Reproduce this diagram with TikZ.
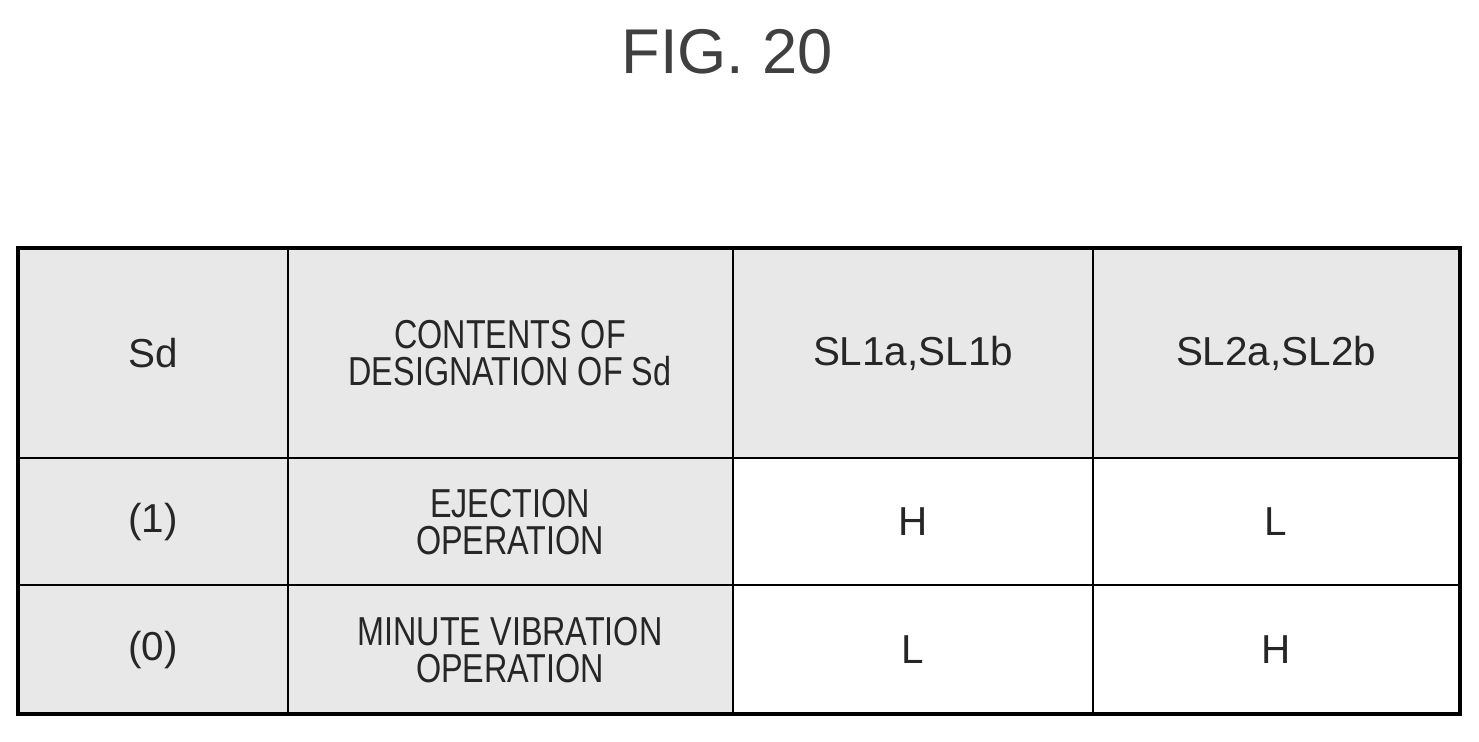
\documentclass[tikz,border=0pt]{standalone}
\usepackage{fontspec}
\setmainfont{Liberation Sans}
\tikzset{
  shade/.style={fill=black!9, draw=black, line width=1.6pt},
  plain/.style={fill=white, draw=black, line width=1.6pt},
  celltext/.style={font=\fontsize{23}{25}\selectfont, align=center, text=black!85},
  narrow/.style={celltext, xscale=0.8, transform shape}
}
\begin{document}
\begin{tikzpicture}[x=0.02cm, y=-0.02cm]
  \useasboundingbox (0,0) rectangle (1479,742);
  \node[text=black!75] (title) at (727,52) {\fontsize{36}{38}\selectfont FIG. 20};

  % cells
  \draw[shade] (18,248) rectangle (1460,458);
  \draw[shade] (18,458) rectangle (733,714);
  \draw[plain] (733,458) rectangle (1460,714);
  \draw[line width=1.6pt] (288,248) -- (288,714);
  \draw[line width=1.6pt] (733,248) -- (733,714);
  \draw[line width=1.6pt] (1093,248) -- (1093,714);
  \draw[line width=1.6pt] (18,458) -- (1460,458);
  \draw[line width=1.6pt] (18,585) -- (1460,585);
  \draw[line width=2.2pt] (18,248) rectangle (1460,714);

  % header row
  \node[celltext] (sd) at (153,353) {Sd};
  \node[narrow] (contents) at (510,353) {CONTENTS OF\\[-4pt]DESIGNATION OF Sd};
  \node[celltext] (slone) at (913,353) {SL1a,SL1b};
  \node[celltext] (sltwo) at (1276,353) {SL2a,SL2b};

  % row (1)
  \node[celltext] (one) at (153,522) {(1)};
  \node[narrow] (eject) at (510,522) {EJECTION\\[-4pt]OPERATION};
  \node[celltext] (oneH) at (913,522) {H};
  \node[celltext] (oneL) at (1276,522) {L};

  % row (0)
  \node[celltext] (zero) at (153,650) {(0)};
  \node[narrow] (minute) at (510,650) {MINUTE VIBRATION\\[-4pt]OPERATION};
  \node[celltext] (zeroL) at (913,650) {L};
  \node[celltext] (zeroH) at (1276,650) {H};
\end{tikzpicture}
\end{document}
